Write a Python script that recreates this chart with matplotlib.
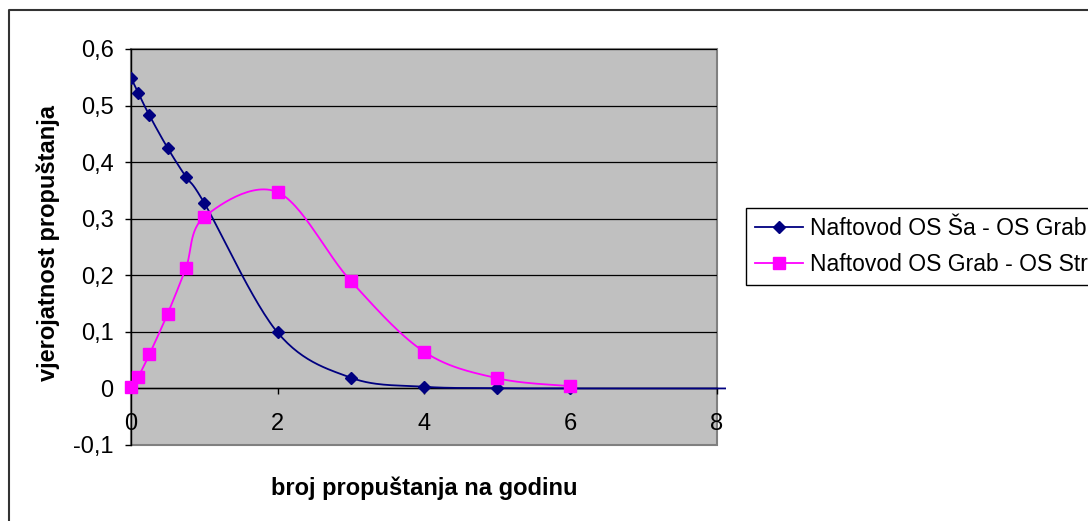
import matplotlib
matplotlib.use("Agg")
import matplotlib.pyplot as plt
import numpy as np
from matplotlib.lines import Line2D
from matplotlib.ticker import FuncFormatter
from matplotlib.transforms import Bbox, TransformedBbox

plt.rcParams['font.family'] = ['Liberation Sans', 'DejaVu Sans']

# broj propuštanja na godinu
x_sa_grab = [0, 0.1, 0.25, 0.5, 0.75, 1, 2, 3, 4, 5, 6, 10]
y_sa_grab = [0.549, 0.522, 0.483, 0.425, 0.374, 0.328, 0.099, 0.019, 0.003, 0.0005, 0.0, 0.0]
x_grab_str = [0, 0.1, 0.25, 0.5, 0.75, 1, 2, 3, 4, 5, 6]
y_grab_str = [0.003, 0.021, 0.060, 0.132, 0.213, 0.303, 0.347, 0.190, 0.065, 0.018, 0.004]
names = ["Naftovod OS Ša - OS Grab", "Naftovod OS Grab - OS Str"]
x_ticks = [0, 2, 4, 6, 8]
y_ticks = [-0.1, 0, 0.1, 0.2, 0.3, 0.4, 0.5, 0.6]


def smooth(x, y, n=30):
  """Smoothed curve through the points (cubic bezier, catmull-rom controls)"""
  p = np.column_stack([x, y]).astype(float)
  p = np.vstack([p[0], p, p[-1]])
  out = []
  for i in range(1, len(p) - 2):
    p0, p1, p2, p3 = p[i - 1], p[i], p[i + 1], p[i + 2]
    c1 = p1 + (p2 - p0) / 6.0
    c2 = p2 - (p3 - p1) / 6.0
    t = np.linspace(0, 1, n)[:, None]
    seg = ((1 - t) ** 3) * p1 + 3 * ((1 - t) ** 2) * t * c1 + 3 * (1 - t) * t ** 2 * c2 + t ** 3 * p2
    out.append(seg if i == 1 else seg[1:])
  seg = np.vstack(out)
  return seg[:, 0], seg[:, 1]


fig = plt.figure(figsize=(10.88, 5.21), dpi=100)
ax = fig.add_axes([131 / 1088, 76 / 521, 586 / 1088, 396 / 521])
ax.set_facecolor("#C0C0C0")
ax.patch.set_edgecolor("#808080")
ax.patch.set_linewidth(1.5)
ax.set_xlim(0, 8)
ax.set_ylim(-0.1, 0.6)

for yv in y_ticks[1:]:
  ax.axhline(yv, color="black", lw=0.9, zorder=1)

navy = "#000080"
pink = "#FF00FF"

sx, sy = smooth(x_sa_grab, y_sa_grab)
l1, = ax.plot(sx, sy, color=navy, lw=1.3, zorder=3)
l1.set_clip_box(TransformedBbox(Bbox([[0, 0], [1.015, 1]]), ax.transAxes))
ax.plot(x_sa_grab[:-1], y_sa_grab[:-1], ls="none", marker="D", ms=6.5, color=navy, zorder=4)

sx, sy = smooth(x_grab_str, y_grab_str)
ax.plot(sx, sy, color=pink, lw=1.3, zorder=3)
ax.plot(x_grab_str, y_grab_str, ls="none", marker="s", ms=8, color=pink, zorder=5, clip_on=False)

for s in ["top", "right"]:
  ax.spines[s].set_visible(False)
ax.spines["left"].set_color("black")
ax.spines["left"].set_linewidth(1.0)
ax.spines["bottom"].set_position(("data", 0))
ax.spines["bottom"].set_color("black")
ax.spines["bottom"].set_linewidth(1.0)

ax.set_xticks(x_ticks)
ax.set_yticks(y_ticks)
ax.yaxis.set_major_formatter(FuncFormatter(
  lambda v, p: "0" if abs(v) < 1e-9 else ("%.1f" % v).replace(".", ",")))
ax.tick_params(axis="y", direction="out", length=4.5, width=1, pad=8, labelsize=17)
ax.tick_params(axis="x", direction="out", length=4.5, width=1, pad=13, labelsize=17)

fig.text(48 / 1088, 1 - 243 / 521, "vjerojatnost propuštanja", rotation=90,
         ha="center", va="center", fontsize=17, fontweight="bold")
fig.text(424 / 1088, 1 - 488 / 521, "broj propuštanja na godinu",
         ha="center", va="center", fontsize=17, fontweight="bold")

# chart frame
fig.add_artist(Line2D([9 / 1088, 9 / 1088, 1.0], [0.0, 1 - 10 / 521, 1 - 10 / 521],
                      transform=fig.transFigure, color="#333333", lw=1.5))

handles = [Line2D([], [], color=navy, lw=1.3, marker="D", ms=6.5),
           Line2D([], [], color=pink, lw=1.3, marker="s", ms=8)]
leg = fig.legend(handles, names, loc="upper left", bbox_to_anchor=(746 / 1088, 1 - 208 / 521),
                 fontsize=16.5, frameon=True, fancybox=False, edgecolor="black", framealpha=1,
                 handlelength=2.1, handletextpad=0.3, borderpad=0.4, labelspacing=0.55,
                 borderaxespad=0)
leg.get_frame().set_linewidth(1.0)

plt.savefig("out.png", dpi=100)
plt.close()
